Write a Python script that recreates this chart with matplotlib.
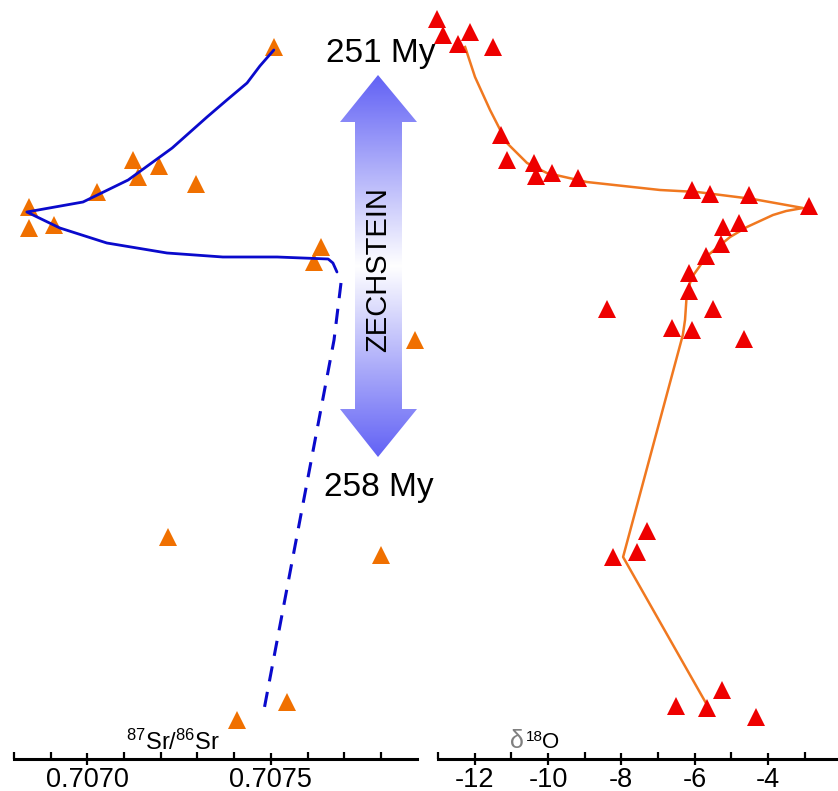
import numpy as np
import matplotlib
matplotlib.use("Agg")
import matplotlib.pyplot as plt
from matplotlib.patches import Polygon
from matplotlib.ticker import FixedLocator

plt.rcParams['font.family'] = ['Liberation Sans', 'DejaVu Sans']
plt.rcParams['mathtext.fontset'] = 'custom'
plt.rcParams['mathtext.rm'] = 'Liberation Sans'
plt.rcParams['mathtext.it'] = 'Liberation Sans:italic'
plt.rcParams['mathtext.bf'] = 'Liberation Sans:bold'

# ---------------- data ----------------
# stratigraphic level (arbitrary units, increasing downward = older)
sr_pts_val = [0.707508, 0.707124, 0.707195, 0.707138, 0.707296, 0.707026, 0.706841,
              0.706841, 0.706909, 0.707637, 0.707617, 0.707893, 0.707220, 0.707800,
              0.707544, 0.707408]
sr_pts_lvl = [47, 160, 166, 177, 184, 192, 207, 228, 225, 247, 262, 340, 537, 555, 702, 720]

sr_curve_val = [0.707508, 0.707470, 0.707435, 0.707380, 0.707326, 0.707231, 0.707111,
                0.706988, 0.706835, 0.706925, 0.707053, 0.707217, 0.707369, 0.707517,
                0.707656, 0.707669, 0.707680]
sr_curve_lvl = [50, 66, 83, 100, 117, 148, 180, 202, 212, 228, 243, 253, 257, 257,
                259, 263, 272]

sr_dash_val = [0.707691, 0.707672, 0.707478]
sr_dash_lvl = [283, 340, 716]

o_pts_val = [-13.03, -12.86, -12.13, -12.45, -11.50, -11.28, -11.12, -10.38, -10.33,
             -9.89, -9.18, -6.07, -5.58, -4.51, -2.88, -5.22, -4.79, -5.28, -5.69,
             -6.15, -6.15, -8.39, -5.50, -6.62, -6.07, -4.65, -7.30, -7.57, -8.23,
             -5.25, -6.51, -5.66, -4.32]
o_pts_lvl = [19, 35, 32, 44, 47, 135, 160, 163, 176, 173, 178, 190, 194, 195, 206, 227,
             223, 244, 256, 273, 291, 309, 309, 328, 330, 339, 531, 552, 557, 690, 706,
             708, 717]

o_curve_val = [-12.26, -11.99, -11.58, -11.12, -10.57, -10.03, -8.94, -6.94, -5.93,
               -4.41, -3.04, -3.50, -3.86, -4.57, -5.03, -5.66, -6.07, -6.21, -6.26,
               -6.32, -7.95, -5.69]
o_curve_lvl = [47, 77, 110, 143, 163, 173, 182, 190, 192, 199, 208, 211, 215, 227, 237,
               256, 277, 293, 320, 335, 557, 703]

sr_major = [0.7070, 0.7075]
sr_major_labels = ['0.7070', '0.7075']
o_major = [-12, -10, -8, -6, -4]
o_major_labels = ['-12', '-10', '-8', '-6', '-4']

# ---------------- figure ----------------
W, H = 838, 791
fig = plt.figure(figsize=(W / 100, H / 100), dpi=100)

axis_row = 759
ax1 = fig.add_axes([14 / W, (H - axis_row) / H, 403 / W, axis_row / H])
ax2 = fig.add_axes([438 / W, (H - axis_row) / H, 400 / W, axis_row / H])

orange_tri = '#f07000'
red_tri = '#ee0000'

# left panel
ax1.plot(sr_curve_val, sr_curve_lvl, color='#0a0acc', lw=2.0, zorder=3,
         solid_capstyle='round', solid_joinstyle='round')
ax1.plot(sr_dash_val, sr_dash_lvl, color='#0a0acc', lw=2.2, ls=(0, (5, 3.5)), zorder=3)
ax1.plot(sr_pts_val, sr_pts_lvl, ls='none', marker='^', ms=12.5, mew=0,
         color=orange_tri, zorder=2, clip_on=False)
ax1.set_xlim(0.7068, 0.7068 + 403 / 367 * 0.001)

# right panel
ax2.plot(o_curve_val, o_curve_lvl, color='#f07820', lw=1.8, zorder=2,
         solid_joinstyle='round')
ax2.plot(o_pts_val, o_pts_lvl, ls='none', marker='^', ms=12.5, mew=0,
         color=red_tri, zorder=3, clip_on=False)
ax2.set_xlim(-13, -13 + 400 / 36.65)

for ax in (ax1, ax2):
    ax.set_ylim(axis_row, 0)
    ax.patch.set_visible(False)
    for s in ('top', 'left', 'right'):
        ax.spines[s].set_visible(False)
    ax.spines['bottom'].set_linewidth(2.2)
    ax.set_yticks([])
    ax.tick_params(axis='x', which='major', direction='inout', length=9, width=1.6,
                   labelsize=19.5, pad=1)
    ax.tick_params(axis='x', which='minor', direction='in', length=5, width=1.6)

ax1.xaxis.set_major_locator(FixedLocator(sr_major))
ax1.set_xticklabels(sr_major_labels)
ax1.xaxis.set_minor_locator(FixedLocator([0.7068 + 0.0001 * i for i in range(11)]))
ax2.xaxis.set_major_locator(FixedLocator(o_major))
ax2.set_xticklabels(o_major_labels)
ax2.xaxis.set_minor_locator(FixedLocator([-13, -11, -9, -7, -5, -3]))

# ---------------- overlay: arrow & annotations (figure pixel coords) ----------------
ov = fig.add_axes([0, 0, 1, 1])
ov.set_axis_off()
ov.patch.set_visible(False)

verts = [(378, 75), (417, 122), (402, 122), (402, 409), (417, 409), (378, 457),
         (340, 409), (355, 409), (355, 122), (340, 122)]
poly = Polygon(verts, closed=True, facecolor='none', edgecolor='none')
ov.add_patch(poly)
n = 300
t = np.abs(np.linspace(0, 1, n) - 0.5) * 2
end_col = np.array([98, 98, 245]) / 255.0
img = (1 - t)[:, None] * np.ones(3)[None, :] + t[:, None] * end_col[None, :]
im = ov.imshow(img[:, None, :], extent=(340, 417, 457, 75), aspect='auto',
               interpolation='bilinear', zorder=1)
im.set_clip_path(poly)
ov.set_xlim(0, W)
ov.set_ylim(H, 0)

ov.text(381, 62, '251 My', fontsize=24, ha='center', va='baseline', zorder=5)
ov.text(379, 496, '258 My', fontsize=24, ha='center', va='baseline', zorder=5)
ov.text(378, 270, 'ZECHSTEIN', fontsize=21, rotation=90, ha='center', va='center', zorder=5)
ov.text(173, 750, r'$^{87}$Sr/$^{86}$Sr', fontsize=17, ha='center', va='baseline', zorder=5)
ov.text(510, 748, 'δ', fontsize=18, color='#808080', ha='left', va='baseline', zorder=5)
ov.text(526, 741, '18', fontsize=11, ha='left', va='baseline', zorder=5)
ov.text(542, 748, 'O', fontsize=16, ha='left', va='baseline', zorder=5)

fig.savefig('out.png', dpi=100)
